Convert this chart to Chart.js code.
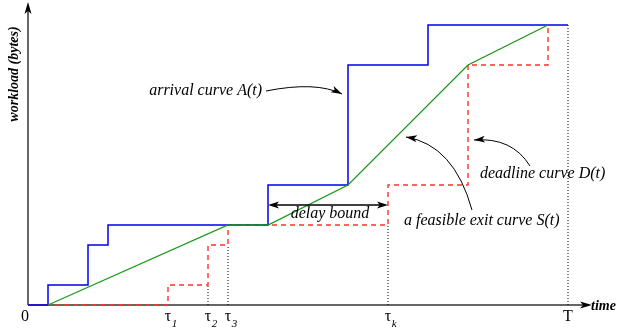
<!DOCTYPE html>
<html>
<head>
<meta charset="utf-8">
<script src="https://cdn.jsdelivr.net/npm/chart.js@4"></script>
<style>
  body { margin: 0; background: #fff; }
  #wrap { width: 618px; height: 331px; }
</style>
</head>
<body>
<div id="wrap"><canvas id="curveChart" width="618" height="331"></canvas></div>
<script>
// step curves: jump times and the level reached at each jump
const arrivalTimes = [0, 1, 3, 4, 12, 16, 20, 27];
const arrivalLevels = [0, 1, 3, 4, 6, 12, 14, 14];
const deadlineTimes = [0, 7, 9, 10, 18, 22, 26];
const deadlineLevels = [0, 1, 3, 4, 6, 12, 14];
// piecewise linear exit curve
const exitTimes = [1, 10, 12, 16, 22, 26];
const exitLevels = [0, 4, 4, 6, 12, 14];
// dotted guide lines down to the time axis
const guideTimes = [9, 10, 18, 27];
const guideTops = [1, 3, 4, 14];
// time axis labels
const tickTimes = [-0.15, 7, 9, 10, 18, 27];
const tickMain = ['0', 'τ', 'τ', 'τ', 'τ', 'T'];
const tickSubs = ['', '1', '2', '3', 'k', ''];
// delay bound between these two times, at this level
const delayFrom = 12, delayTo = 18, delayLevel = 5;

const xMax = 28, yMax = 15;
const serif = '"Liberation Serif", "DejaVu Serif", serif';

function pts(xs, ys) {
    return xs.map((x, i) => ({ x: x, y: ys[i] }));
}
const guidePts = [];
guideTimes.forEach((t, i) => {
    guidePts.push({ x: t, y: 0 }, { x: t, y: guideTops[i] }, { x: t, y: null });
});

function arrowHead(ctx, x, y, ang, len, half) {
    ctx.save();
    ctx.translate(x, y);
    ctx.rotate(ang);
    ctx.beginPath();
    ctx.moveTo(0, 0);
    ctx.lineTo(-len, -half);
    ctx.lineTo(-len * 0.75, 0);
    ctx.lineTo(-len, half);
    ctx.closePath();
    ctx.fill();
    ctx.restore();
}

// curved pointer: from (x0,y0) via control (cx,cy) to (x1,y1), all in data units
function pointer(ctx, xs, ys, p) {
    const X = v => xs.getPixelForValue(v), Y = v => ys.getPixelForValue(v);
    const x0 = X(p[0]), y0 = Y(p[1]), cx = X(p[2]), cy = Y(p[3]), x1 = X(p[4]), y1 = Y(p[5]);
    ctx.beginPath();
    ctx.moveTo(x0, y0);
    ctx.quadraticCurveTo(cx, cy, x1, y1);
    ctx.stroke();
    arrowHead(ctx, x1, y1, Math.atan2(y1 - cy, x1 - cx), 11, 3.5);
}

const axesPlugin = {
    id: 'axesPlugin',
    beforeDatasetsDraw(chart) {
        const ctx = chart.ctx, xs = chart.scales.x, ys = chart.scales.y;
        const x0 = xs.getPixelForValue(0), y0 = ys.getPixelForValue(0);
        ctx.save();
        ctx.strokeStyle = '#666';
        ctx.lineWidth = 2;
        ctx.beginPath();
        ctx.moveTo(x0, y0);
        ctx.lineTo(x0, 8);
        ctx.moveTo(x0, y0);
        ctx.lineTo(584, y0);
        ctx.stroke();
        ctx.fillStyle = '#000';
        arrowHead(ctx, x0, 2, -Math.PI / 2, 12, 3.5);
        arrowHead(ctx, 592, y0, 0, 12, 3.5);
        ctx.restore();
    },
    afterDatasetsDraw(chart) {
        const ctx = chart.ctx, xs = chart.scales.x, ys = chart.scales.y;
        const X = v => xs.getPixelForValue(v), Y = v => ys.getPixelForValue(v);
        ctx.save();
        ctx.fillStyle = '#000';
        ctx.textBaseline = 'alphabetic';

        // time axis labels
        tickTimes.forEach((t, i) => {
            ctx.font = '16px ' + serif;
            ctx.textAlign = 'center';
            ctx.fillText(tickMain[i], X(t), 321);
            if (tickSubs[i]) {
                const w = ctx.measureText(tickMain[i]).width;
                ctx.font = 'italic 11px ' + serif;
                ctx.textAlign = 'left';
                ctx.fillText(tickSubs[i], X(t) + w / 2 + 0.5, 327);
            }
        });

        // axis titles
        ctx.font = 'bold italic 14px ' + serif;
        ctx.textAlign = 'left';
        ctx.fillText('time', 591, 310);
        ctx.save();
        ctx.translate(18, 74);
        ctx.rotate(-Math.PI / 2);
        ctx.textAlign = 'center';
        ctx.fillText('workload (bytes)', 0, 0);
        ctx.restore();

        // delay bound double arrow
        ctx.strokeStyle = '#000';
        ctx.lineWidth = 1.3;
        const dy = Y(delayLevel);
        ctx.beginPath();
        ctx.moveTo(X(delayFrom) + 6, dy);
        ctx.lineTo(X(delayTo) - 6, dy);
        ctx.stroke();
        arrowHead(ctx, X(delayFrom), dy, Math.PI, 11, 3.5);
        arrowHead(ctx, X(delayTo), dy, 0, 11, 3.5);
        ctx.font = 'italic 16px ' + serif;
        ctx.textAlign = 'center';
        ctx.fillText('delay bound', (X(delayFrom) + X(delayTo)) / 2 + 2, 218);

        // curve labels and pointers
        ctx.lineWidth = 1;
        ctx.textAlign = 'right';
        ctx.fillText('arrival curve A(t)', 262, 95);
        pointer(ctx, xs, ys, [11.9, 10.7, 14.4, 11.2, 15.7, 10.55]);
        ctx.textAlign = 'left';
        ctx.fillText('deadline curve D(t)', 480, 178);
        pointer(ctx, xs, ys, [25.1, 6.95, 24.2, 8.4, 22.3, 8.25]);
        ctx.fillText('a feasible exit curve S(t)', 404, 225);
        pointer(ctx, xs, ys, [22.2, 4.75, 21.3, 8.0, 18.9, 8.4]);
        ctx.restore();
    }
};

new Chart(document.getElementById('curveChart').getContext('2d'), {
    type: 'line',
    data: {
        datasets: [
            {
                label: 'exit curve S(t)',
                data: pts(exitTimes, exitLevels),
                borderColor: '#1a9a1a',
                borderWidth: 1.3,
                order: 0
            },
            {
                label: 'arrival curve A(t)',
                data: pts(arrivalTimes, arrivalLevels),
                stepped: 'before',
                borderColor: '#0000ee',
                borderWidth: 1.5,
                order: 1
            },
            {
                label: 'deadline curve D(t)',
                data: pts(deadlineTimes, deadlineLevels),
                stepped: 'before',
                borderColor: '#ff3030',
                borderWidth: 1.4,
                borderDash: [5, 4],
                order: 2
            },
            {
                label: 'guides',
                data: guidePts,
                borderColor: '#000',
                borderWidth: 1,
                borderDash: [1, 2],
                spanGaps: false,
                order: 3
            }
        ]
    },
    options: {
        responsive: false,
        animation: false,
        events: [],
        layout: { padding: { left: 28, right: 30, top: 5, bottom: 26 } },
        elements: {
            point: { radius: 0 },
            line: { tension: 0, fill: false }
        },
        datasets: { line: { clip: false } },
        scales: {
            x: { type: 'linear', min: 0, max: xMax, display: false },
            y: { type: 'linear', min: 0, max: yMax, display: false }
        },
        plugins: {
            legend: { display: false },
            tooltip: { enabled: false }
        }
    },
    plugins: [axesPlugin]
});
</script>
</body>
</html>
